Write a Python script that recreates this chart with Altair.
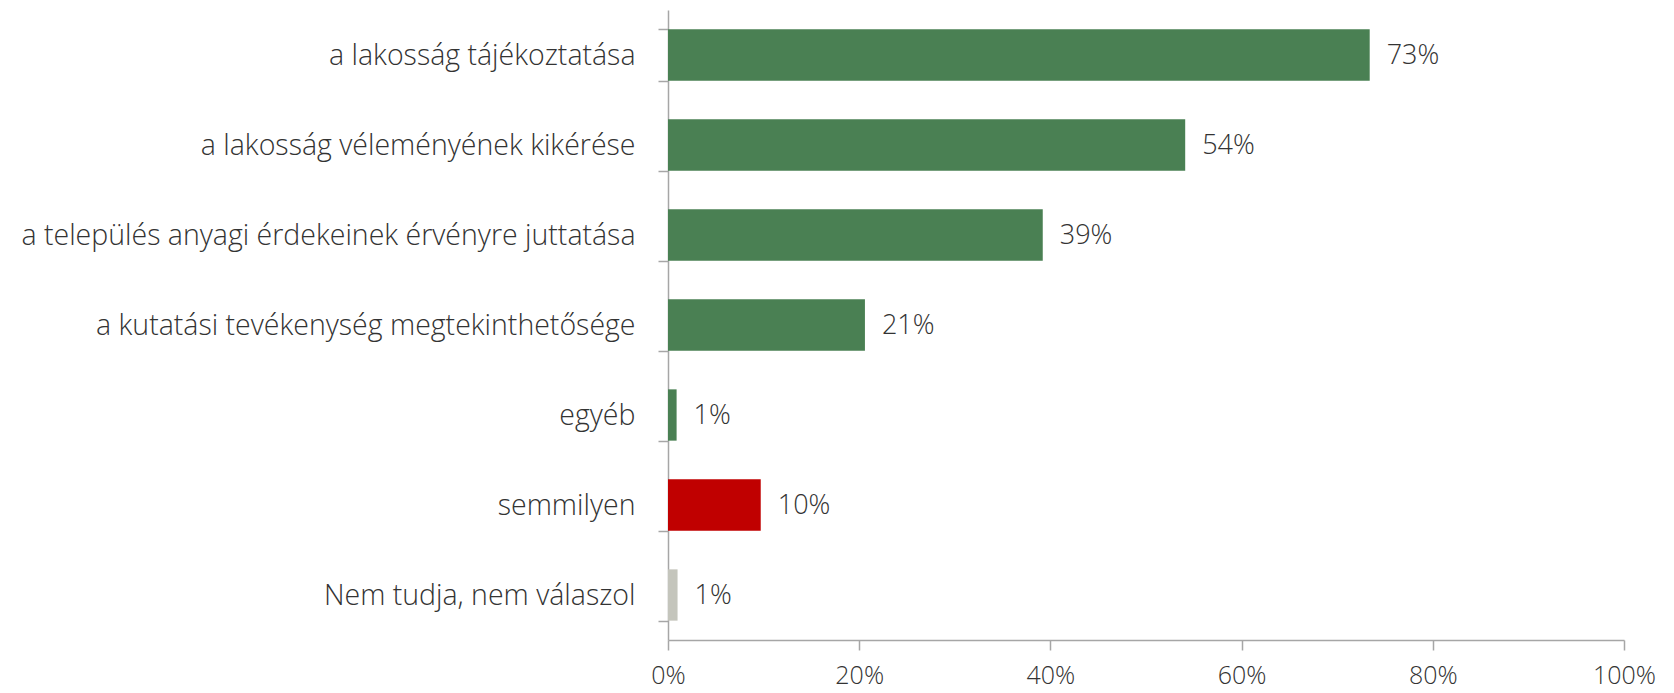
import altair as alt
import pandas as pd

categories = [
    "a lakosság tájékoztatása",
    "a lakosság véleményének kikérése",
    "a település anyagi érdekeinek érvényre juttatása",
    "a kutatási tevékenység megtekinthetősége",
    "egyéb",
    "semmilyen",
    "Nem tudja, nem válaszol",
]
values = [0.734, 0.541, 0.392, 0.206, 0.009, 0.097, 0.010]
labels = ["73%", "54%", "39%", "21%", "1%", "10%", "1%"]
colors = ["#4A8053", "#4A8053", "#4A8053", "#4A8053", "#4A8053", "#C00000", "#C4C5BC"]

df = pd.DataFrame({"cat": categories, "val": values, "lab": labels, "col": colors})

FONT = "Open Sans"
TEXT = "#333333"
AXC = "#A6A6A6"

y = alt.Y("cat:N", sort=categories,
          scale=alt.Scale(paddingInner=0.43, paddingOuter=0.215),
          axis=alt.Axis(title=None, labelFont=FONT, labelFontSize=28.5, labelFontWeight=300,
                        labelColor=TEXT, labelPadding=23, tickSize=10, tickColor=AXC,
                        domainColor=AXC, tickWidth=1.5, domainWidth=1.5, tickBand="extent",
                        labelLimit=0))
x = alt.X("val:Q", scale=alt.Scale(domain=[0, 1], nice=False),
          axis=alt.Axis(title=None, values=[0, 0.2, 0.4, 0.6, 0.8, 1.0], format=".0%",
                        labelFont=FONT, labelFontSize=25, labelFontWeight=300, labelColor=TEXT,
                        labelPadding=13, tickSize=10, tickColor=AXC, domainColor=AXC,
                        tickWidth=1.5, domainWidth=1.5, grid=False, labelFlush=False))

bars = alt.Chart(df).mark_bar().encode(x=x, y=y, color=alt.Color("col:N", scale=None))
text = alt.Chart(df).mark_text(align="left", baseline="middle", dx=17, dy=1, font=FONT,
                               fontSize=27, fontWeight=300, color=TEXT).encode(
    x="val:Q", y=alt.Y("cat:N", sort=categories), text="lab:N")

chart = (bars + text).properties(
    width=956, height=630,
    autosize=alt.AutoSizeParams(type="none"),
    padding={"left": 660, "top": 2, "right": 42, "bottom": 53},
).configure(font=FONT, view=alt.ViewConfig(stroke=None))

chart.save("out.html", embed_options={"renderer": "svg", "actions": False})
